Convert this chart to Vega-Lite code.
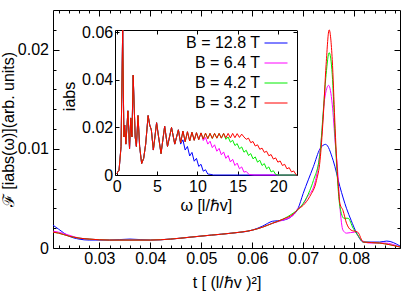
{
"$schema":"https://vega.github.io/schema/vega-lite/v6.json",
"width":347,"height":238,
"autosize":{"type":"none"},
"padding":{"left":53,"top":10,"right":15,"bottom":43},
"config":{"font":"Liberation Sans","view":{"stroke":"black","strokeWidth":1},
"axis":{"labelFont":"Liberation Sans","labelFontSize":16,"titleFont":"Liberation Sans","titleFontSize":16,"titleFontWeight":"normal","labelColor":"black","titleColor":"black","tickColor":"black","domainColor":"black","grid":false,"tickWidth":1}},
"datasets":{
"m":[
{"s":"B = 12.8 T","t":0.0209,"f":0.0023},{"s":"B = 12.8 T","t":0.022,"f":0.0019},{"s":"B = 12.8 T","t":0.024,"f":0.0012},{"s":"B = 12.8 T","t":0.026,"f":0.0009},{"s":"B = 12.8 T","t":0.028,"f":0.0008},{"s":"B = 12.8 T","t":0.032,"f":0.0008},{"s":"B = 12.8 T","t":0.036,"f":0.0009},{"s":"B = 12.8 T","t":0.04,"f":0.0008},{"s":"B = 12.8 T","t":0.044,"f":0.0009},{"s":"B = 12.8 T","t":0.048,"f":0.0011},{"s":"B = 12.8 T","t":0.052,"f":0.0013},{"s":"B = 12.8 T","t":0.056,"f":0.0015},{"s":"B = 12.8 T","t":0.06,"f":0.0018},{"s":"B = 12.8 T","t":0.062,"f":0.0022},{"s":"B = 12.8 T","t":0.064,"f":0.0027},{"s":"B = 12.8 T","t":0.066,"f":0.0028},{"s":"B = 12.8 T","t":0.068,"f":0.0033},{"s":"B = 12.8 T","t":0.069,"f":0.004},{"s":"B = 12.8 T","t":0.07,"f":0.0055},{"s":"B = 12.8 T","t":0.072,"f":0.0082},{"s":"B = 12.8 T","t":0.0733,"f":0.01},{"s":"B = 12.8 T","t":0.0744,"f":0.01045},{"s":"B = 12.8 T","t":0.0759,"f":0.0088},{"s":"B = 12.8 T","t":0.0772,"f":0.0062},{"s":"B = 12.8 T","t":0.0785,"f":0.004},{"s":"B = 12.8 T","t":0.0794,"f":0.0028},{"s":"B = 12.8 T","t":0.0805,"f":0.0015},{"s":"B = 12.8 T","t":0.0818,"f":0.0006},{"s":"B = 12.8 T","t":0.085,"f":0.0006},{"s":"B = 12.8 T","t":0.0864,"f":0.0007},{"s":"B = 12.8 T","t":0.089,"f":0.0002},
{"s":"B = 6.4 T","t":0.0209,"f":0.0017},{"s":"B = 6.4 T","t":0.022,"f":0.0016},{"s":"B = 6.4 T","t":0.024,"f":0.0013},{"s":"B = 6.4 T","t":0.026,"f":0.001},{"s":"B = 6.4 T","t":0.028,"f":0.0009},{"s":"B = 6.4 T","t":0.032,"f":0.0008},{"s":"B = 6.4 T","t":0.036,"f":0.0008},{"s":"B = 6.4 T","t":0.04,"f":0.0008},{"s":"B = 6.4 T","t":0.044,"f":0.0009},{"s":"B = 6.4 T","t":0.048,"f":0.0011},{"s":"B = 6.4 T","t":0.052,"f":0.0013},{"s":"B = 6.4 T","t":0.056,"f":0.0015},{"s":"B = 6.4 T","t":0.06,"f":0.0018},{"s":"B = 6.4 T","t":0.062,"f":0.0021},{"s":"B = 6.4 T","t":0.064,"f":0.0025},{"s":"B = 6.4 T","t":0.066,"f":0.0028},{"s":"B = 6.4 T","t":0.068,"f":0.0033},{"s":"B = 6.4 T","t":0.069,"f":0.004},{"s":"B = 6.4 T","t":0.07,"f":0.0044},{"s":"B = 6.4 T","t":0.071,"f":0.0053},{"s":"B = 6.4 T","t":0.0715,"f":0.0056},{"s":"B = 6.4 T","t":0.0722,"f":0.0064},{"s":"B = 6.4 T","t":0.073,"f":0.0085},{"s":"B = 6.4 T","t":0.0736,"f":0.0112},{"s":"B = 6.4 T","t":0.0742,"f":0.015},{"s":"B = 6.4 T","t":0.075,"f":0.0164},{"s":"B = 6.4 T","t":0.0757,"f":0.0145},{"s":"B = 6.4 T","t":0.0763,"f":0.0105},{"s":"B = 6.4 T","t":0.0767,"f":0.0082},{"s":"B = 6.4 T","t":0.0772,"f":0.0042},{"s":"B = 6.4 T","t":0.0778,"f":0.0018},{"s":"B = 6.4 T","t":0.0785,"f":0.0015},{"s":"B = 6.4 T","t":0.0801,"f":0.0016},{"s":"B = 6.4 T","t":0.0812,"f":0.0009},{"s":"B = 6.4 T","t":0.083,"f":0.0005},{"s":"B = 6.4 T","t":0.086,"f":0.0005},{"s":"B = 6.4 T","t":0.089,"f":0.0001},
{"s":"B = 4.2 T","t":0.0209,"f":0.0016},{"s":"B = 4.2 T","t":0.022,"f":0.0015},{"s":"B = 4.2 T","t":0.024,"f":0.0012},{"s":"B = 4.2 T","t":0.026,"f":0.001},{"s":"B = 4.2 T","t":0.028,"f":0.0009},{"s":"B = 4.2 T","t":0.032,"f":0.0008},{"s":"B = 4.2 T","t":0.036,"f":0.0008},{"s":"B = 4.2 T","t":0.04,"f":0.0008},{"s":"B = 4.2 T","t":0.044,"f":0.0009},{"s":"B = 4.2 T","t":0.048,"f":0.0011},{"s":"B = 4.2 T","t":0.052,"f":0.0013},{"s":"B = 4.2 T","t":0.056,"f":0.0015},{"s":"B = 4.2 T","t":0.06,"f":0.0018},{"s":"B = 4.2 T","t":0.062,"f":0.0021},{"s":"B = 4.2 T","t":0.064,"f":0.0025},{"s":"B = 4.2 T","t":0.066,"f":0.0029},{"s":"B = 4.2 T","t":0.068,"f":0.0035},{"s":"B = 4.2 T","t":0.069,"f":0.0039},{"s":"B = 4.2 T","t":0.07,"f":0.0045},{"s":"B = 4.2 T","t":0.0713,"f":0.0058},{"s":"B = 4.2 T","t":0.072,"f":0.0068},{"s":"B = 4.2 T","t":0.0733,"f":0.0095},{"s":"B = 4.2 T","t":0.0739,"f":0.0135},{"s":"B = 4.2 T","t":0.0745,"f":0.0175},{"s":"B = 4.2 T","t":0.0751,"f":0.0197},{"s":"B = 4.2 T","t":0.0757,"f":0.0175},{"s":"B = 4.2 T","t":0.0762,"f":0.012},{"s":"B = 4.2 T","t":0.0766,"f":0.008},{"s":"B = 4.2 T","t":0.0772,"f":0.0042},{"s":"B = 4.2 T","t":0.078,"f":0.003},{"s":"B = 4.2 T","t":0.0788,"f":0.003},{"s":"B = 4.2 T","t":0.0798,"f":0.002},{"s":"B = 4.2 T","t":0.0807,"f":0.0013},{"s":"B = 4.2 T","t":0.0818,"f":0.0006},{"s":"B = 4.2 T","t":0.085,"f":0.0005},{"s":"B = 4.2 T","t":0.089,"f":0.0001},
{"s":"B = 3.2 T","t":0.0209,"f":0.0016},{"s":"B = 3.2 T","t":0.022,"f":0.0015},{"s":"B = 3.2 T","t":0.024,"f":0.0012},{"s":"B = 3.2 T","t":0.026,"f":0.001},{"s":"B = 3.2 T","t":0.028,"f":0.0009},{"s":"B = 3.2 T","t":0.032,"f":0.0008},{"s":"B = 3.2 T","t":0.036,"f":0.0008},{"s":"B = 3.2 T","t":0.04,"f":0.0008},{"s":"B = 3.2 T","t":0.044,"f":0.0009},{"s":"B = 3.2 T","t":0.048,"f":0.0011},{"s":"B = 3.2 T","t":0.052,"f":0.0013},{"s":"B = 3.2 T","t":0.056,"f":0.0015},{"s":"B = 3.2 T","t":0.06,"f":0.0018},{"s":"B = 3.2 T","t":0.062,"f":0.0021},{"s":"B = 3.2 T","t":0.064,"f":0.0025},{"s":"B = 3.2 T","t":0.066,"f":0.0029},{"s":"B = 3.2 T","t":0.068,"f":0.0034},{"s":"B = 3.2 T","t":0.069,"f":0.0039},{"s":"B = 3.2 T","t":0.07,"f":0.0043},{"s":"B = 3.2 T","t":0.0713,"f":0.0052},{"s":"B = 3.2 T","t":0.0726,"f":0.0068},{"s":"B = 3.2 T","t":0.0733,"f":0.0088},{"s":"B = 3.2 T","t":0.0739,"f":0.0129},{"s":"B = 3.2 T","t":0.0745,"f":0.0185},{"s":"B = 3.2 T","t":0.0751,"f":0.022},{"s":"B = 3.2 T","t":0.0757,"f":0.019},{"s":"B = 3.2 T","t":0.0762,"f":0.0129},{"s":"B = 3.2 T","t":0.0765,"f":0.0095},{"s":"B = 3.2 T","t":0.0769,"f":0.0062},{"s":"B = 3.2 T","t":0.0772,"f":0.0045},{"s":"B = 3.2 T","t":0.0778,"f":0.0038},{"s":"B = 3.2 T","t":0.0785,"f":0.0025},{"s":"B = 3.2 T","t":0.0794,"f":0.0018},{"s":"B = 3.2 T","t":0.0807,"f":0.0016},{"s":"B = 3.2 T","t":0.0818,"f":0.0006},{"s":"B = 3.2 T","t":0.085,"f":0.0005},{"s":"B = 3.2 T","t":0.089,"f":0.0001}
],
"ins":[
{"s":"B = 12.8 T","w":0,"i":0.0005},{"s":"B = 12.8 T","w":0.3,"i":0.002},{"s":"B = 12.8 T","w":0.55,"i":0.012},{"s":"B = 12.8 T","w":0.75,"i":0.07},{"s":"B = 12.8 T","w":0.9,"i":0.016},{"s":"B = 12.8 T","w":1.0,"i":0.021},{"s":"B = 12.8 T","w":1.15,"i":0.013},{"s":"B = 12.8 T","w":1.4,"i":0.027},{"s":"B = 12.8 T","w":1.6,"i":0.011},{"s":"B = 12.8 T","w":1.75,"i":0.024},{"s":"B = 12.8 T","w":1.9,"i":0.016},{"s":"B = 12.8 T","w":2.05,"i":0.042},{"s":"B = 12.8 T","w":2.3,"i":0.016},{"s":"B = 12.8 T","w":2.45,"i":0.012},{"s":"B = 12.8 T","w":2.65,"i":0.025},{"s":"B = 12.8 T","w":2.85,"i":0.012},{"s":"B = 12.8 T","w":3.1,"i":0.0048},{"s":"B = 12.8 T","w":3.35,"i":0.007},{"s":"B = 12.8 T","w":3.6,"i":0.013},{"s":"B = 12.8 T","w":3.9,"i":0.025},{"s":"B = 12.8 T","w":4.1,"i":0.021},{"s":"B = 12.8 T","w":4.3,"i":0.019},{"s":"B = 12.8 T","w":4.55,"i":0.0105},{"s":"B = 12.8 T","w":4.95,"i":0.022},{"s":"B = 12.8 T","w":5.2,"i":0.016},{"s":"B = 12.8 T","w":5.5,"i":0.009},{"s":"B = 12.8 T","w":5.95,"i":0.0205},{"s":"B = 12.8 T","w":6.3,"i":0.012},{"s":"B = 12.8 T","w":6.8,"i":0.02},{"s":"B = 12.8 T","w":7.2,"i":0.013},{"s":"B = 12.8 T","w":7.65,"i":0.019},
{"s":"B = 12.8 T","w":7.93,"i":0.013},{"s":"B = 12.8 T","w":8.21,"i":0.0148},{"s":"B = 12.8 T","w":8.49,"i":0.0105},{"s":"B = 12.8 T","w":8.77,"i":0.012},{"s":"B = 12.8 T","w":9.05,"i":0.008},{"s":"B = 12.8 T","w":9.33,"i":0.0095},{"s":"B = 12.8 T","w":9.61,"i":0.0058},{"s":"B = 12.8 T","w":9.89,"i":0.007},{"s":"B = 12.8 T","w":10.17,"i":0.0036},{"s":"B = 12.8 T","w":10.45,"i":0.0045},{"s":"B = 12.8 T","w":10.73,"i":0.0016},{"s":"B = 12.8 T","w":11.01,"i":0.0022},{"s":"B = 12.8 T","w":11.29,"i":0.0004},{"s":"B = 12.8 T","w":11.57,"i":0.0003},{"s":"B = 12.8 T","w":12,"i":0},{"s":"B = 12.8 T","w":22.3,"i":0},
{"s":"B = 6.4 T","w":0,"i":0.0005},{"s":"B = 6.4 T","w":0.3,"i":0.002},{"s":"B = 6.4 T","w":0.55,"i":0.012},{"s":"B = 6.4 T","w":0.75,"i":0.07},{"s":"B = 6.4 T","w":0.9,"i":0.016},{"s":"B = 6.4 T","w":1.0,"i":0.021},{"s":"B = 6.4 T","w":1.15,"i":0.013},{"s":"B = 6.4 T","w":1.4,"i":0.027},{"s":"B = 6.4 T","w":1.6,"i":0.011},{"s":"B = 6.4 T","w":1.75,"i":0.024},{"s":"B = 6.4 T","w":1.9,"i":0.016},{"s":"B = 6.4 T","w":2.05,"i":0.042},{"s":"B = 6.4 T","w":2.3,"i":0.016},{"s":"B = 6.4 T","w":2.45,"i":0.012},{"s":"B = 6.4 T","w":2.65,"i":0.025},{"s":"B = 6.4 T","w":2.85,"i":0.012},{"s":"B = 6.4 T","w":3.1,"i":0.0048},{"s":"B = 6.4 T","w":3.35,"i":0.007},{"s":"B = 6.4 T","w":3.6,"i":0.013},{"s":"B = 6.4 T","w":3.9,"i":0.025},{"s":"B = 6.4 T","w":4.1,"i":0.021},{"s":"B = 6.4 T","w":4.3,"i":0.019},{"s":"B = 6.4 T","w":4.55,"i":0.0105},{"s":"B = 6.4 T","w":4.95,"i":0.022},{"s":"B = 6.4 T","w":5.2,"i":0.016},{"s":"B = 6.4 T","w":5.5,"i":0.009},{"s":"B = 6.4 T","w":5.95,"i":0.0205},{"s":"B = 6.4 T","w":6.3,"i":0.012},{"s":"B = 6.4 T","w":6.8,"i":0.02},{"s":"B = 6.4 T","w":7.2,"i":0.013},{"s":"B = 6.4 T","w":7.65,"i":0.019},
{"s":"B = 6.4 T","w":7.93,"i":0.0135},{"s":"B = 6.4 T","w":8.21,"i":0.0185},{"s":"B = 6.4 T","w":8.49,"i":0.014},{"s":"B = 6.4 T","w":8.77,"i":0.0182},{"s":"B = 6.4 T","w":9.05,"i":0.0143},{"s":"B = 6.4 T","w":9.33,"i":0.018},{"s":"B = 6.4 T","w":9.61,"i":0.0146},{"s":"B = 6.4 T","w":9.89,"i":0.0178},{"s":"B = 6.4 T","w":10.17,"i":0.0149},{"s":"B = 6.4 T","w":10.45,"i":0.0177},
{"s":"B = 6.4 T","w":10.73,"i":0.0145},{"s":"B = 6.4 T","w":11.01,"i":0.0158},{"s":"B = 6.4 T","w":11.29,"i":0.013},{"s":"B = 6.4 T","w":11.57,"i":0.0142},{"s":"B = 6.4 T","w":11.85,"i":0.0115},{"s":"B = 6.4 T","w":12.13,"i":0.0127},{"s":"B = 6.4 T","w":12.41,"i":0.01},{"s":"B = 6.4 T","w":12.69,"i":0.0112},{"s":"B = 6.4 T","w":12.97,"i":0.0085},{"s":"B = 6.4 T","w":13.25,"i":0.0097},{"s":"B = 6.4 T","w":13.53,"i":0.007},{"s":"B = 6.4 T","w":13.81,"i":0.0082},{"s":"B = 6.4 T","w":14.09,"i":0.0055},{"s":"B = 6.4 T","w":14.37,"i":0.0066},{"s":"B = 6.4 T","w":14.65,"i":0.004},{"s":"B = 6.4 T","w":14.93,"i":0.005},{"s":"B = 6.4 T","w":15.21,"i":0.0026},{"s":"B = 6.4 T","w":15.49,"i":0.0034},{"s":"B = 6.4 T","w":15.77,"i":0.0012},{"s":"B = 6.4 T","w":16.05,"i":0.0015},{"s":"B = 6.4 T","w":16.4,"i":0.0002},{"s":"B = 6.4 T","w":17,"i":0},{"s":"B = 6.4 T","w":22.3,"i":0},
{"s":"B = 4.2 T","w":0,"i":0.0005},{"s":"B = 4.2 T","w":0.3,"i":0.002},{"s":"B = 4.2 T","w":0.55,"i":0.012},{"s":"B = 4.2 T","w":0.75,"i":0.07},{"s":"B = 4.2 T","w":0.9,"i":0.016},{"s":"B = 4.2 T","w":1.0,"i":0.021},{"s":"B = 4.2 T","w":1.15,"i":0.013},{"s":"B = 4.2 T","w":1.4,"i":0.027},{"s":"B = 4.2 T","w":1.6,"i":0.011},{"s":"B = 4.2 T","w":1.75,"i":0.024},{"s":"B = 4.2 T","w":1.9,"i":0.016},{"s":"B = 4.2 T","w":2.05,"i":0.042},{"s":"B = 4.2 T","w":2.3,"i":0.016},{"s":"B = 4.2 T","w":2.45,"i":0.012},{"s":"B = 4.2 T","w":2.65,"i":0.025},{"s":"B = 4.2 T","w":2.85,"i":0.012},{"s":"B = 4.2 T","w":3.1,"i":0.0048},{"s":"B = 4.2 T","w":3.35,"i":0.007},{"s":"B = 4.2 T","w":3.6,"i":0.013},{"s":"B = 4.2 T","w":3.9,"i":0.025},{"s":"B = 4.2 T","w":4.1,"i":0.021},{"s":"B = 4.2 T","w":4.3,"i":0.019},{"s":"B = 4.2 T","w":4.55,"i":0.0105},{"s":"B = 4.2 T","w":4.95,"i":0.022},{"s":"B = 4.2 T","w":5.2,"i":0.016},{"s":"B = 4.2 T","w":5.5,"i":0.009},{"s":"B = 4.2 T","w":5.95,"i":0.0205},{"s":"B = 4.2 T","w":6.3,"i":0.012},{"s":"B = 4.2 T","w":6.8,"i":0.02},{"s":"B = 4.2 T","w":7.2,"i":0.013},{"s":"B = 4.2 T","w":7.65,"i":0.019},
{"s":"B = 4.2 T","w":7.93,"i":0.0135},{"s":"B = 4.2 T","w":8.21,"i":0.0185},{"s":"B = 4.2 T","w":8.49,"i":0.014},{"s":"B = 4.2 T","w":8.77,"i":0.0182},{"s":"B = 4.2 T","w":9.05,"i":0.0143},{"s":"B = 4.2 T","w":9.33,"i":0.018},{"s":"B = 4.2 T","w":9.61,"i":0.0146},{"s":"B = 4.2 T","w":9.89,"i":0.0178},{"s":"B = 4.2 T","w":10.17,"i":0.0149},{"s":"B = 4.2 T","w":10.45,"i":0.0177},{"s":"B = 4.2 T","w":10.73,"i":0.0151},{"s":"B = 4.2 T","w":11.01,"i":0.0176},{"s":"B = 4.2 T","w":11.29,"i":0.0153},{"s":"B = 4.2 T","w":11.57,"i":0.0175},{"s":"B = 4.2 T","w":11.85,"i":0.0154},{"s":"B = 4.2 T","w":12.13,"i":0.0175},{"s":"B = 4.2 T","w":12.41,"i":0.0155},{"s":"B = 4.2 T","w":12.69,"i":0.0175},{"s":"B = 4.2 T","w":12.97,"i":0.0155},{"s":"B = 4.2 T","w":13.25,"i":0.0175},
{"s":"B = 4.2 T","w":13.53,"i":0.015},{"s":"B = 4.2 T","w":13.81,"i":0.016},{"s":"B = 4.2 T","w":14.09,"i":0.0138},{"s":"B = 4.2 T","w":14.37,"i":0.0146},{"s":"B = 4.2 T","w":14.65,"i":0.0124},{"s":"B = 4.2 T","w":14.93,"i":0.0132},{"s":"B = 4.2 T","w":15.21,"i":0.011},{"s":"B = 4.2 T","w":15.49,"i":0.0118},{"s":"B = 4.2 T","w":15.77,"i":0.0096},{"s":"B = 4.2 T","w":16.05,"i":0.0104},{"s":"B = 4.2 T","w":16.33,"i":0.0082},{"s":"B = 4.2 T","w":16.61,"i":0.009},{"s":"B = 4.2 T","w":16.89,"i":0.0068},{"s":"B = 4.2 T","w":17.17,"i":0.0076},{"s":"B = 4.2 T","w":17.45,"i":0.0054},{"s":"B = 4.2 T","w":17.73,"i":0.0062},{"s":"B = 4.2 T","w":18.01,"i":0.004},{"s":"B = 4.2 T","w":18.29,"i":0.0048},{"s":"B = 4.2 T","w":18.57,"i":0.0026},{"s":"B = 4.2 T","w":18.85,"i":0.0034},{"s":"B = 4.2 T","w":19.13,"i":0.0013},{"s":"B = 4.2 T","w":19.41,"i":0.0018},{"s":"B = 4.2 T","w":19.7,"i":0.0002},{"s":"B = 4.2 T","w":20,"i":0},{"s":"B = 4.2 T","w":22.3,"i":0},
{"s":"B = 3.2 T","w":0,"i":0.0005},{"s":"B = 3.2 T","w":0.3,"i":0.002},{"s":"B = 3.2 T","w":0.55,"i":0.012},{"s":"B = 3.2 T","w":0.75,"i":0.07},{"s":"B = 3.2 T","w":0.9,"i":0.016},{"s":"B = 3.2 T","w":1.0,"i":0.021},{"s":"B = 3.2 T","w":1.15,"i":0.013},{"s":"B = 3.2 T","w":1.4,"i":0.027},{"s":"B = 3.2 T","w":1.6,"i":0.011},{"s":"B = 3.2 T","w":1.75,"i":0.024},{"s":"B = 3.2 T","w":1.9,"i":0.016},{"s":"B = 3.2 T","w":2.05,"i":0.042},{"s":"B = 3.2 T","w":2.3,"i":0.016},{"s":"B = 3.2 T","w":2.45,"i":0.012},{"s":"B = 3.2 T","w":2.65,"i":0.025},{"s":"B = 3.2 T","w":2.85,"i":0.012},{"s":"B = 3.2 T","w":3.1,"i":0.0048},{"s":"B = 3.2 T","w":3.35,"i":0.007},{"s":"B = 3.2 T","w":3.6,"i":0.013},{"s":"B = 3.2 T","w":3.9,"i":0.025},{"s":"B = 3.2 T","w":4.1,"i":0.021},{"s":"B = 3.2 T","w":4.3,"i":0.019},{"s":"B = 3.2 T","w":4.55,"i":0.0105},{"s":"B = 3.2 T","w":4.95,"i":0.022},{"s":"B = 3.2 T","w":5.2,"i":0.016},{"s":"B = 3.2 T","w":5.5,"i":0.009},{"s":"B = 3.2 T","w":5.95,"i":0.0205},{"s":"B = 3.2 T","w":6.3,"i":0.012},{"s":"B = 3.2 T","w":6.8,"i":0.02},{"s":"B = 3.2 T","w":7.2,"i":0.013},{"s":"B = 3.2 T","w":7.65,"i":0.019},
{"s":"B = 3.2 T","w":7.93,"i":0.0135},{"s":"B = 3.2 T","w":8.21,"i":0.0185},{"s":"B = 3.2 T","w":8.49,"i":0.014},{"s":"B = 3.2 T","w":8.77,"i":0.0182},{"s":"B = 3.2 T","w":9.05,"i":0.0143},{"s":"B = 3.2 T","w":9.33,"i":0.018},{"s":"B = 3.2 T","w":9.61,"i":0.0146},{"s":"B = 3.2 T","w":9.89,"i":0.0178},{"s":"B = 3.2 T","w":10.17,"i":0.0149},{"s":"B = 3.2 T","w":10.45,"i":0.0177},{"s":"B = 3.2 T","w":10.73,"i":0.0151},{"s":"B = 3.2 T","w":11.01,"i":0.0176},{"s":"B = 3.2 T","w":11.29,"i":0.0153},{"s":"B = 3.2 T","w":11.57,"i":0.0175},{"s":"B = 3.2 T","w":11.85,"i":0.0154},{"s":"B = 3.2 T","w":12.13,"i":0.0175},{"s":"B = 3.2 T","w":12.41,"i":0.0155},{"s":"B = 3.2 T","w":12.69,"i":0.0175},{"s":"B = 3.2 T","w":12.97,"i":0.0155},{"s":"B = 3.2 T","w":13.25,"i":0.0175},{"s":"B = 3.2 T","w":13.53,"i":0.0156},{"s":"B = 3.2 T","w":13.81,"i":0.0175},{"s":"B = 3.2 T","w":14.09,"i":0.0156},{"s":"B = 3.2 T","w":14.37,"i":0.0175},{"s":"B = 3.2 T","w":14.65,"i":0.0157},{"s":"B = 3.2 T","w":14.93,"i":0.0174},{"s":"B = 3.2 T","w":15.21,"i":0.0158},{"s":"B = 3.2 T","w":15.49,"i":0.0172},{"s":"B = 3.2 T","w":15.77,"i":0.016},
{"s":"B = 3.2 T","w":16.05,"i":0.015},{"s":"B = 3.2 T","w":16.33,"i":0.0155},{"s":"B = 3.2 T","w":16.61,"i":0.0136},{"s":"B = 3.2 T","w":16.89,"i":0.0141},{"s":"B = 3.2 T","w":17.17,"i":0.0122},{"s":"B = 3.2 T","w":17.45,"i":0.0127},{"s":"B = 3.2 T","w":17.73,"i":0.0108},{"s":"B = 3.2 T","w":18.01,"i":0.0113},{"s":"B = 3.2 T","w":18.29,"i":0.0095},{"s":"B = 3.2 T","w":18.57,"i":0.01},{"s":"B = 3.2 T","w":18.85,"i":0.0081},{"s":"B = 3.2 T","w":19.13,"i":0.0086},{"s":"B = 3.2 T","w":19.41,"i":0.0067},{"s":"B = 3.2 T","w":19.69,"i":0.0072},{"s":"B = 3.2 T","w":19.97,"i":0.0054},{"s":"B = 3.2 T","w":20.25,"i":0.0059},{"s":"B = 3.2 T","w":20.53,"i":0.004},{"s":"B = 3.2 T","w":20.81,"i":0.0045},{"s":"B = 3.2 T","w":21.09,"i":0.0026},{"s":"B = 3.2 T","w":21.37,"i":0.0031},{"s":"B = 3.2 T","w":21.65,"i":0.0013},{"s":"B = 3.2 T","w":21.93,"i":0.0017},{"s":"B = 3.2 T","w":22.21,"i":0.0002},{"s":"B = 3.2 T","w":22.3,"i":0}
]
},
"layer":[
{"layer":[
{"data":{"name":"m"},
"mark":{"type":"line","strokeWidth":1,"clip":true,"interpolate":"monotone"},
"encoding":{
"x":{"field":"t","type":"quantitative","scale":{"domain":[0.0209,0.089],"nice":false,"zero":false},
"axis":{"orient":"bottom","values":[0.022,0.024,0.026,0.028,0.03,0.032,0.034,0.036,0.038,0.04,0.042,0.044,0.046,0.048,0.05,0.052,0.054,0.056,0.058,0.06,0.062,0.064,0.066,0.068,0.07,0.072,0.074,0.076,0.078,0.08,0.082,0.084,0.086,0.088],"format":".2f",
"labelExpr":"abs(datum.value*100-round(datum.value*100))<0.01 ? datum.label : ''",
"tickSize":{"condition":{"test":"abs(datum.value*100-round(datum.value*100))<0.01","value":-6},"value":-3},
"labelPadding":8,"domain":false,"labelFlush":false,"labelOverlap":false,"title":"t [ (l/ℏv )²]","titleY":26,"titleBaseline":"top"}},
"y":{"field":"f","type":"quantitative","scale":{"domain":[0,0.024],"nice":false},
"axis":{"orient":"left","values":[0,0.002,0.004,0.006,0.008,0.01,0.012,0.014,0.016,0.018,0.02,0.022],"format":".2~f",
"labelExpr":"abs(datum.value*100-round(datum.value*100))<0.01 ? datum.label : ''",
"tickSize":{"condition":{"test":"abs(datum.value*100-round(datum.value*100))<0.01","value":-6},"value":-3},
"labelPadding":10.5,"domain":false,"labelOverlap":false,"labelFlush":false,"title":"ℱ [iabs(ω)](arb. units)","titlePadding":1}},
"color":{"field":"s","type":"nominal","scale":{"domain":["B = 12.8 T","B = 6.4 T","B = 4.2 T","B = 3.2 T"],"range":["#0000ff","#ff00ff","#00ee00","#ff0000"]},
"legend":{"orient":"none","legendX":211,"legendY":21,"title":null,"symbolType":"stroke","symbolSize":529,"symbolStrokeWidth":1,"labelAlign":"right","labelOffset":-28,"labelFontSize":16,"labelFont":"Liberation Sans","labelColor":"black","padding":0,"rowPadding":-3.5}}
}},
{"data":{"name":"m"},
"mark":{"type":"line","opacity":0},
"encoding":{
"x":{"field":"t","type":"quantitative","scale":{"domain":[0.0209,0.089],"nice":false,"zero":false},
"axis":{"orient":"top","values":[0.022,0.024,0.026,0.028,0.03,0.032,0.034,0.036,0.038,0.04,0.042,0.044,0.046,0.048,0.05,0.052,0.054,0.056,0.058,0.06,0.062,0.064,0.066,0.068,0.07,0.072,0.074,0.076,0.078,0.08,0.082,0.084,0.086,0.088],"labels":false,
"tickSize":{"condition":{"test":"abs(datum.value*100-round(datum.value*100))<0.01","value":-6},"value":-3},
"domain":false,"title":null}},
"y":{"field":"f","type":"quantitative","scale":{"domain":[0,0.024],"nice":false},
"axis":{"orient":"right","values":[0,0.002,0.004,0.006,0.008,0.01,0.012,0.014,0.016,0.018,0.02,0.022],"labels":false,
"tickSize":{"condition":{"test":"abs(datum.value*100-round(datum.value*100))<0.01","value":-6},"value":-3},
"domain":false,"title":null}}
}}
],"resolve":{"axis":{"x":"independent","y":"independent"}}},
{"layer":[
{"data":{"name":"ins"},
"mark":{"type":"line","strokeWidth":1,"clip":true},
"encoding":{
"x":{"field":"w","type":"quantitative","scale":{"domain":[-0.2,22.3],"nice":false,"zero":false,"range":[62,243.7]},
"axis":{"orient":"bottom","offset":-73,"values":[0,5,10,15,20],"format":"d","tickSize":-4,"labelPadding":7,"domain":true,"labelFlush":false,"labelOverlap":false,"title":"ω [l/ℏv]","titleY":22,"titleBaseline":"top"}},
"y":{"field":"i","type":"quantitative","scale":{"domain":[0,0.061],"nice":false,"clamp":true,"range":[165,20]},
"axis":{"orient":"left","offset":-62,"values":[0,0.02,0.04,0.06],"format":".2~f","tickSize":-4,"labelPadding":6.3,"domain":true,"labelFlush":false,"labelOverlap":false,"title":"iabs","titleX":-38,"titleY":86}},
"color":{"field":"s","type":"nominal","scale":{"domain":["B = 12.8 T","B = 6.4 T","B = 4.2 T","B = 3.2 T"],"range":["#0000ff","#ff00ff","#00ee00","#ff0000"]},
"legend":{"orient":"none","legendX":211,"legendY":21,"title":null,"symbolType":"stroke","symbolSize":529,"symbolStrokeWidth":1,"labelAlign":"right","labelOffset":-28,"labelFontSize":16,"labelFont":"Liberation Sans","labelColor":"black","padding":0,"rowPadding":-3.5}}
}},
{"data":{"name":"ins"},
"mark":{"type":"line","opacity":0},
"encoding":{
"x":{"field":"w","type":"quantitative","scale":{"domain":[-0.2,22.3],"nice":false,"zero":false,"range":[62,243.7]},
"axis":{"orient":"top","offset":-20,"values":[0,5,10,15,20],"labels":false,"tickSize":-4,"domain":true,"title":null}},
"y":{"field":"i","type":"quantitative","scale":{"domain":[0,0.061],"nice":false,"clamp":true,"range":[165,20]},
"axis":{"orient":"right","offset":-103,"values":[0,0.02,0.04,0.06],"labels":false,"tickSize":-4,"domain":true,"title":null}}
}}
],"resolve":{"axis":{"x":"independent","y":"independent"}}}
],
"resolve":{"scale":{"x":"independent","y":"independent"},"axis":{"x":"independent","y":"independent"}}
}
